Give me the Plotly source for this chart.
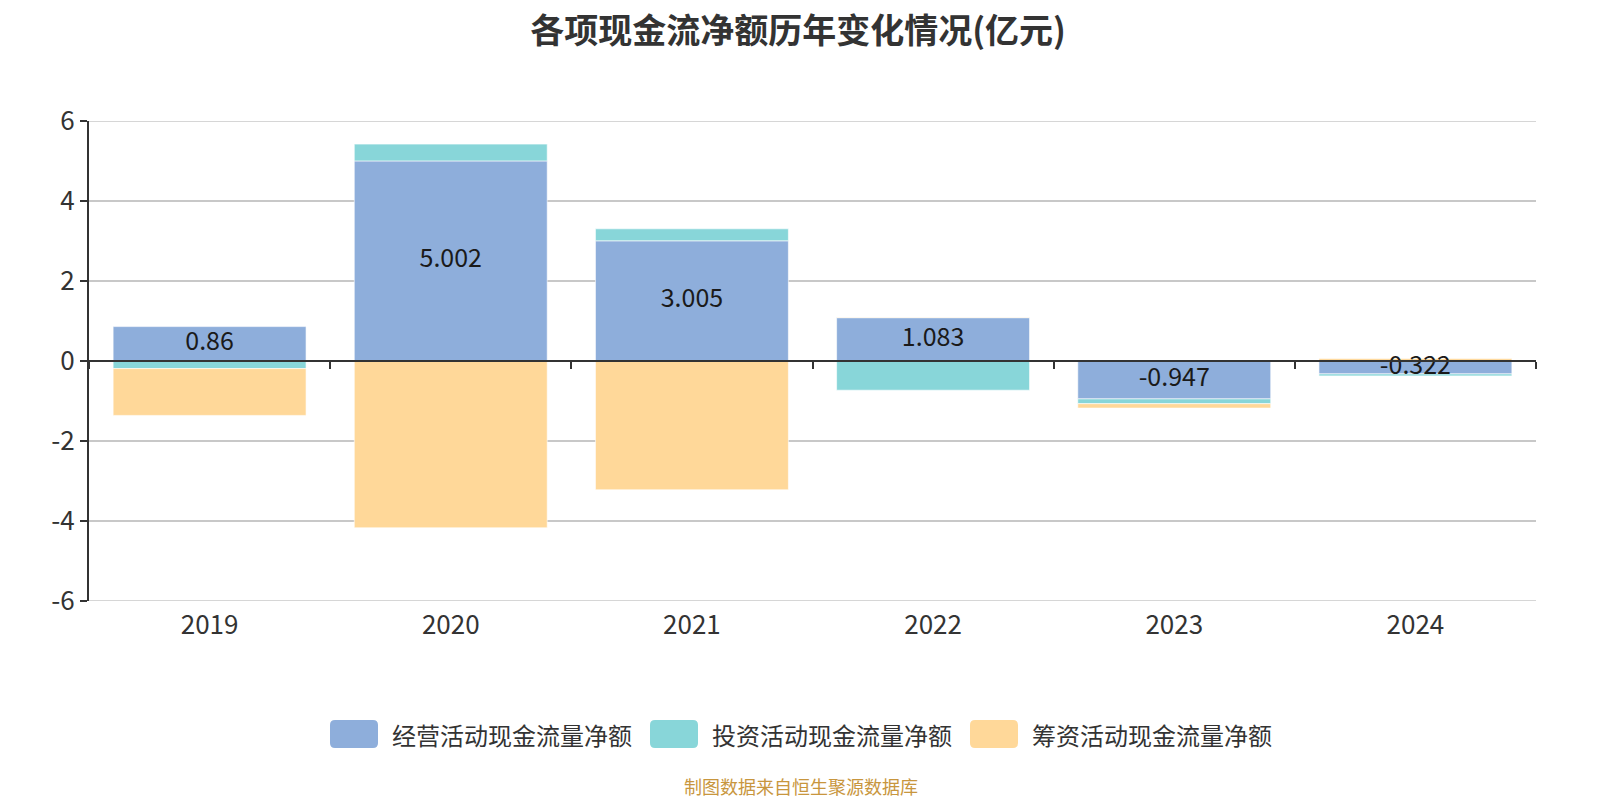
import plotly.graph_objects as go

years = ["2019", "2020", "2021", "2022", "2023", "2024"]
operating = [0.86, 5.002, 3.005, 1.083, -0.947, -0.322]
investing = [-0.19, 0.42, 0.30, -0.73, -0.12, -0.05]
financing = [-1.17, -4.17, -3.22, 0.01, -0.11, 0.06]
op_labels = ["0.86", "5.002", "3.005", "1.083", "-0.947", "-0.322"]
series_names = ["经营活动现金流量净额", "投资活动现金流量净额", "筹资活动现金流量净额"]
colors = ["#8EAEDB", "#88D6D9", "#FFD899"]
y_ticks = [-6, -4, -2, 0, 2, 4, 6]
y_tick_text = ["-6", "-4", "-2", "0", "2", "4", "6"]

FONT = "Noto Sans CJK SC, Open Sans, sans-serif"

OFF = 8  # page body margin
W, H = 1600 - OFF, 800 - OFF
# plot area in page pixels: x 89..1536, y 120.7..600.7
L = 89 - OFF
R = W - (1536 - OFF)
T = 121 - OFF
B = H - (601 - OFF)
PW, PH = W - L - R, H - T - B


def px_x(p):
    return (p - OFF - L) / PW


def px_y(p):
    return (H - B - (p - OFF)) / PH


fig = go.Figure()
for name, vals, c in zip(series_names, [operating, investing, financing], colors):
    fig.add_trace(go.Bar(
        x=years, y=vals, name=name, width=0.8, showlegend=False,
        marker=dict(color=c, line=dict(color="rgba(255,255,255,0.6)", width=1)),
        hoverinfo="skip",
    ))

idx = list(range(len(years)))
fig.add_trace(go.Scatter(
    x=idx, y=[v / 2 for v in operating], text=op_labels, mode="text",
    textfont=dict(size=25, color="#1a1a1a", family=FONT),
    xaxis="x2", showlegend=False, hoverinfo="skip",
))

# manual legend with rounded swatches (page pixel coordinates)
shapes = []
annotations = []
for i, (name, c) in enumerate(zip(series_names, colors)):
    x0 = 330 + 320 * i
    x1 = x0 + 48
    y0, y1 = 720, 748
    r = 5
    pts = [
        ("M", x0 + r, y0), ("L", x1 - r, y0), ("Q", x1, y0, x1, y0 + r),
        ("L", x1, y1 - r), ("Q", x1, y1, x1 - r, y1), ("L", x0 + r, y1),
        ("Q", x0, y1, x0, y1 - r), ("L", x0, y0 + r), ("Q", x0, y0, x0 + r, y0),
    ]
    path = ""
    for p in pts:
        cmd = p[0]
        coords = p[1:]
        seg = " ".join(
            f"{px_x(coords[k]):.5f},{px_y(coords[k + 1]):.5f}" for k in range(0, len(coords), 2)
        )
        path += f"{cmd} {seg} "
    path += "Z"
    shapes.append(dict(type="path", xref="paper", yref="paper", path=path,
                       fillcolor=c, line=dict(width=0)))
    annotations.append(dict(text=name, xref="paper", yref="paper",
                            x=px_x(x1 + 12), y=px_y((y0 + y1) / 2),
                            xanchor="left", yanchor="middle", showarrow=False,
                            font=dict(size=24, color="#333", family=FONT)))

# edge gridlines
for yv in (y_ticks[0], y_ticks[-1]):
    shapes.append(dict(type="line", xref="paper", yref="y", x0=0, x1=1, y0=yv, y1=yv,
                       line=dict(color="#c8c8c8", width=1.5), layer="below"))

annotations.append(dict(text="制图数据来自恒生聚源数据库", xref="paper", yref="paper",
                        x=px_x(801), y=px_y(786), xanchor="center", yanchor="middle",
                        showarrow=False, font=dict(size=18, color="#C8963E", family=FONT)))

fig.update_layout(
    width=W, height=H,
    barmode="relative",
    plot_bgcolor="white", paper_bgcolor="white",
    margin=dict(l=L, r=R, t=T, b=B),
    title=dict(text="<b>各项现金流净额历年变化情况(亿元)</b>", x=(798 - OFF) / W, xanchor="center",
               y=1 - (31 - OFF) / H, yanchor="middle",
               font=dict(size=34, color="#333", family=FONT)),
    font=dict(family=FONT, color="#333"),
    showlegend=False,
    xaxis=dict(type="category", showline=False, showgrid=False, ticks="",
               tickfont=dict(size=26, color="#333", family=FONT), ticklabelstandoff=6),
    xaxis2=dict(overlaying="x", anchor="free", position=0.5, range=[-0.5, len(years) - 0.5],
                tickvals=[i + 0.5 for i in range(-1, len(years))], showticklabels=False,
                ticks="outside", ticklen=7, tickwidth=2, tickcolor="#333",
                showline=True, linecolor="#333", linewidth=2, showgrid=False, zeroline=False),
    yaxis=dict(range=[y_ticks[0], y_ticks[-1]], tickvals=y_ticks, ticktext=y_tick_text,
               showgrid=True, gridcolor="#c8c8c8", gridwidth=1.5,
               zeroline=False, showline=True, linecolor="#333", linewidth=2,
               ticks="outside", ticklen=7, tickwidth=2, tickcolor="#333",
               tickfont=dict(size=26, color="#333", family=FONT)),
    shapes=shapes,
    annotations=annotations,
)

fig.write_html("out.html")
